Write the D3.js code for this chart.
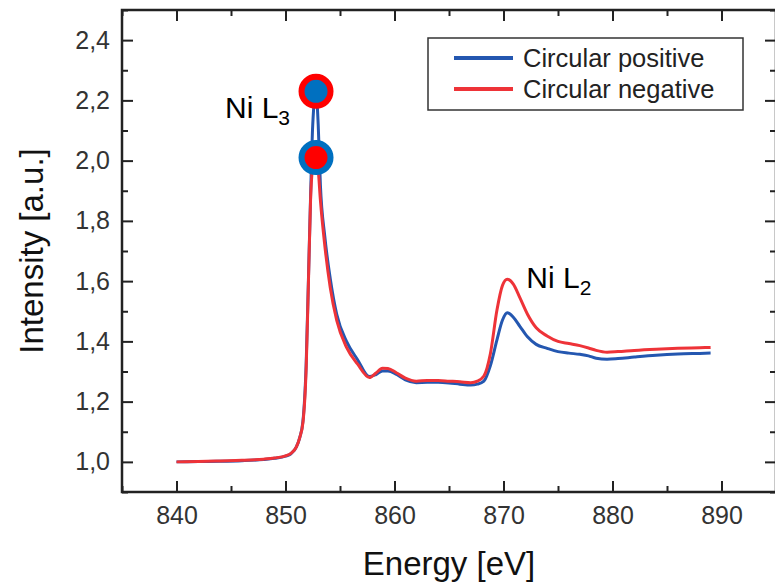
<!DOCTYPE html>
<html>
<head>
<meta charset="utf-8">
<script src="https://cdn.jsdelivr.net/npm/d3@7/dist/d3.min.js"></script>
<style>
    body { margin: 0; background: #fff; }
    svg { display: block; font-family: "Liberation Sans", Arial, sans-serif; }
    .tick-label { font-size: 25px; fill: #333; }
    .title { font-size: 33px; fill: #111; }
    .legend-text { font-size: 25.5px; fill: #222; }
    .note { font-size: 30px; fill: #000; }
</style>
</head>
<body>
<div id="chart"></div>
<script>
// photon energy in eV, shared by both spectra
const energy = [840, 842, 844, 846, 848, 849, 850, 850.5, 851, 851.3,
    851.6, 851.9, 852.1, 852.3, 852.5, 852.8, 853.0, 853.2, 853.6, 854.1,
    854.7, 855.6, 856.6, 857.7, 858.3, 858.9, 859.4, 860.2, 861, 862,
    863, 864, 865, 866, 867, 867.6, 868.2, 868.8, 869.4, 869.9,
    870.35, 870.9, 871.5, 872.2, 873, 874, 875, 876, 877, 877.8,
    878.5, 879.5, 880.5, 882, 884, 886, 888, 889];

const circularPositive = [1.0, 1.001, 1.002, 1.004, 1.008, 1.012, 1.019, 1.027, 1.05, 1.08,
    1.135, 1.33, 1.6, 1.88, 2.12, 2.23, 2.12, 1.92, 1.75, 1.61,
    1.49, 1.40, 1.34, 1.283, 1.29, 1.302, 1.302, 1.29, 1.272, 1.263,
    1.264, 1.264, 1.262, 1.258, 1.255, 1.258, 1.268, 1.32, 1.405, 1.47,
    1.495, 1.48, 1.45, 1.415, 1.39, 1.377, 1.366, 1.361, 1.357, 1.352,
    1.344, 1.341, 1.343, 1.348, 1.354, 1.358, 1.36, 1.361];

const circularNegative = [1.0, 1.001, 1.003, 1.005, 1.009, 1.013, 1.02, 1.028, 1.05, 1.08,
    1.13, 1.315, 1.59, 1.87, 1.98, 2.01, 1.97, 1.87, 1.72, 1.58,
    1.47, 1.38, 1.325, 1.28, 1.295, 1.311, 1.31, 1.295, 1.278, 1.268,
    1.27, 1.27, 1.268, 1.266, 1.263, 1.268, 1.285, 1.36, 1.504, 1.585,
    1.606, 1.59, 1.545, 1.49, 1.445, 1.418, 1.40, 1.393, 1.386, 1.378,
    1.37, 1.364, 1.366, 1.37, 1.374, 1.377, 1.379, 1.38];

const xTicks = [840, 850, 860, 870, 880, 890];
const yTicks = [1.0, 1.2, 1.4, 1.6, 1.8, 2.0, 2.2, 2.4];
const seriesNames = ["Circular positive", "Circular negative"];

const width = 775, height = 583;
const margin = {top: 10, right: -1, bottom: 91, left: 122};
const blue = "#2457b0", red = "#ee3338";

const svg = d3.select("#chart").append("svg").attr("width", width).attr("height", height);

const x = d3.scaleLinear().domain([835, 895]).range([margin.left, width - margin.right]);
const y = d3.scaleLinear().domain([0.9, 2.5]).range([height - margin.bottom, margin.top]);

const commaFmt = v => d3.format(".1f")(v).replace(".", ",");
const xMinor = d3.range(835, 896, 5).filter(v => xTicks.indexOf(v) < 0);
const yMinor = d3.range(0.9, 2.51, 0.2).map(v => +v.toFixed(1));

// bottom axis
svg.append("g").attr("transform", `translate(0,${y.range()[0]})`)
    .call(d3.axisBottom(x).tickValues(xTicks).tickSize(-11).tickPadding(14).tickFormat(d3.format("d")));
svg.append("g").attr("transform", `translate(0,${y.range()[0]})`)
    .call(d3.axisBottom(x).tickValues(xMinor).tickSize(-6).tickFormat(""));
// top axis
svg.append("g").attr("transform", `translate(0,${y.range()[1]})`)
    .call(d3.axisTop(x).tickValues(xTicks).tickSize(-11).tickFormat(""));
svg.append("g").attr("transform", `translate(0,${y.range()[1]})`)
    .call(d3.axisTop(x).tickValues(xMinor).tickSize(-6).tickFormat(""));
// left axis
svg.append("g").attr("transform", `translate(${x.range()[0]},0)`)
    .call(d3.axisLeft(y).tickValues(yTicks).tickSize(-11).tickPadding(12).tickFormat(commaFmt));
svg.append("g").attr("transform", `translate(${x.range()[0]},0)`)
    .call(d3.axisLeft(y).tickValues(yMinor).tickSize(-6).tickFormat(""));
// right axis
svg.append("g").attr("transform", `translate(${x.range()[1]},0)`)
    .call(d3.axisRight(y).tickValues(yTicks).tickSize(-11).tickFormat(""));
svg.append("g").attr("transform", `translate(${x.range()[1]},0)`)
    .call(d3.axisRight(y).tickValues(yMinor).tickSize(-6).tickFormat(""));

svg.selectAll(".domain").remove();
svg.selectAll(".tick line").attr("stroke", "#222").attr("stroke-width", 2);
svg.selectAll(".tick text").attr("class", "tick-label").attr("fill", null).attr("font-family", null).attr("font-size", null);

svg.append("rect")
    .attr("x", x.range()[0]).attr("y", y.range()[1])
    .attr("width", x.range()[1] - x.range()[0]).attr("height", y.range()[0] - y.range()[1])
    .attr("fill", "none").attr("stroke", "#222").attr("stroke-width", 2.5);

// spectra, blue first so red sits on top
const line = d3.line().x(d => x(d[0])).y(d => y(d[1])).curve(d3.curveMonotoneX);
const series = [circularPositive, circularNegative];
const colors = [blue, red];
series.forEach((vals, i) => {
    svg.append("path")
        .datum(energy.map((e, k) => [e, vals[k]]))
        .attr("fill", "none").attr("stroke", colors[i]).attr("stroke-width", 3)
        .attr("stroke-linejoin", "round").attr("d", line);
});

// peak markers at the L3 maxima
const iPos = d3.maxIndex(circularPositive), iNeg = d3.maxIndex(circularNegative);
[[iPos, circularPositive, "#0070c0", "#ff0000"], [iNeg, circularNegative, "#ff0000", "#0070c0"]].forEach(m => {
    svg.append("circle")
        .attr("cx", x(energy[m[0]])).attr("cy", y(m[1][m[0]])).attr("r", 14.5)
        .attr("fill", m[2]).attr("stroke", m[3]).attr("stroke-width", 6);
});

// edge labels
const l3 = svg.append("text").attr("class", "note").attr("text-anchor", "end")
    .attr("x", x(energy[iPos]) - 26).attr("y", y(circularPositive[iPos]) + 27);
l3.append("tspan").text("Ni L");
l3.append("tspan").attr("dy", 7).attr("font-size", 21).text("3");

const iL2 = d3.maxIndex(circularNegative, (v, k) => energy[k] > 865 ? v : 0);
const l2 = svg.append("text").attr("class", "note")
    .attr("x", x(energy[iL2]) + 19).attr("y", y(circularNegative[iL2]) + 9);
l2.append("tspan").text("Ni L");
l2.append("tspan").attr("dy", 7).attr("font-size", 21).text("2");

// axis titles
svg.append("text").attr("class", "title").attr("text-anchor", "middle")
    .attr("x", d3.mean(x.range())).attr("y", 575).text("Energy [eV]");
svg.append("text").attr("class", "title").attr("text-anchor", "middle")
    .attr("transform", `translate(43,${d3.mean(y.range())}) rotate(-90)`).text("Intensity [a.u.]");

// legend
const legend = svg.append("g").attr("transform", "translate(428,38)");
legend.append("rect").attr("width", 315).attr("height", 72)
    .attr("fill", "#fff").attr("stroke", "#333").attr("stroke-width", 1.5);
seriesNames.forEach((name, i) => {
    const row = legend.append("g").attr("transform", `translate(0,${20 + i * 31})`);
    row.append("line").attr("x1", 26).attr("x2", 85).attr("stroke", colors[i]).attr("stroke-width", 4);
    row.append("text").attr("class", "legend-text").attr("x", 95).attr("y", 9).text(name);
});
</script>
</body>
</html>
